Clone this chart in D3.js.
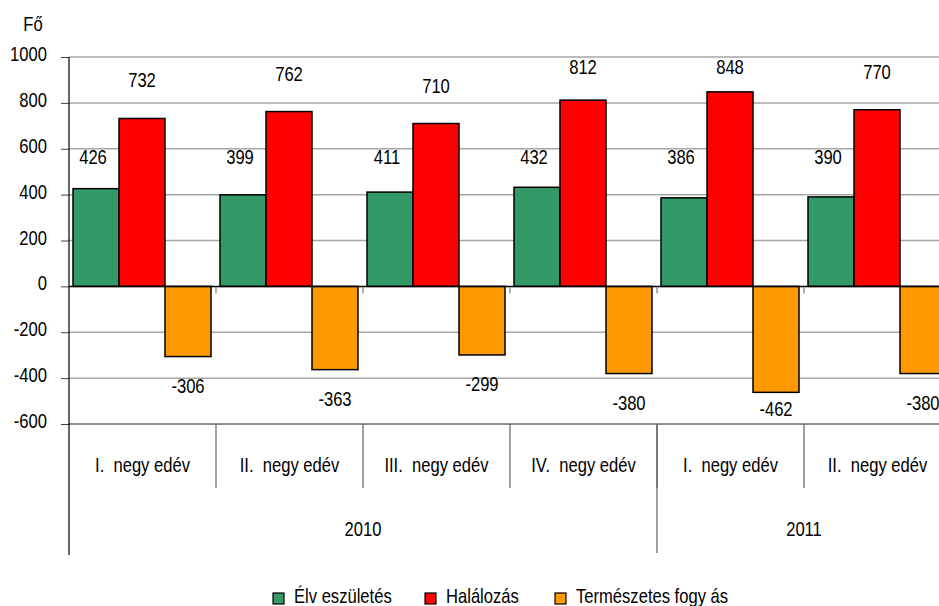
<!DOCTYPE html>
<html><head><meta charset="utf-8">
<script src="https://cdn.jsdelivr.net/npm/d3@7"></script>
<style>body{margin:0;background:#fff}svg{display:block}text{font-family:"Liberation Sans",Arial,sans-serif;fill:#000}</style>
</head><body><svg id="c" width="939" height="606"></svg>
<script>
const quarters = ["I.  negy edév","II.  negy edév","III.  negy edév","IV.  negy edév","I.  negy edév","II.  negy edév"];
const years = [{label:"2010", n:4},{label:"2011", n:2}];
const seriesNames = ["Élv eszületés","Halálozás","Természetes fogy ás"];
const births = [426,399,411,432,386,390];
const deaths = [732,762,710,812,848,770];
const natural = [-306,-363,-299,-380,-462,-380];
const yTicks = [-600,-400,-200,0,200,400,600,800,1000];
const colors = ["#339966","#ff0000","#ff9900"];
const series = [births, deaths, natural];

const svg = d3.select("#c");
const font = 20, sx = 0.83;
function txt(g, x, yy, s, anchor, dy){
  return g.append("text").attr("transform",`translate(${x},${yy}) scale(${sx},1)`)
    .attr("text-anchor",anchor||"middle").attr("dy",dy||"0.35em").attr("font-size",font)
    .style("white-space","pre").text(s);
}
const y = d3.scaleLinear().domain([-600,1000]).range([424,57]);
const x = d3.scaleBand().domain(d3.range(quarters.length)).range([69,951]).paddingInner(0).paddingOuter(0);
const bx = d3.scaleBand().domain([0,1,2]).range([4, x.bandwidth()-5]).padding(0);

// gridlines
svg.append("g").selectAll("line").data(yTicks.filter(d=>d!==0)).join("line")
  .attr("x1",69).attr("x2",951).attr("y1",d=>y(d)).attr("y2",d=>y(d))
  .attr("stroke",d=>d===-600?"#8c8c8c":"#a6a6a6").attr("stroke-width",d=>d===-600?2:1.5);

// y axis
const yAxis = d3.axisLeft(y).tickValues(yTicks).tickFormat(()=>"").tickSize(8);
const ya = svg.append("g").attr("transform","translate(69,0)").call(yAxis);
ya.select(".domain").remove();
ya.selectAll(".tick line").attr("stroke","#404040");
const yl = svg.append("g");
yTicks.forEach(t=>txt(yl, 47, y(t)-3, String(t), "end"));
svg.append("line").attr("x1",69).attr("x2",69).attr("y1",y(1000)).attr("y2",555).attr("stroke","#000").attr("stroke-width",1.2);

txt(svg, 33, 24, "Fő", "middle");

// bars
series.forEach((s,si)=>{
  svg.append("g").selectAll("rect").data(s).join("rect")
    .attr("x",(d,i)=>x(i)+bx(si))
    .attr("width",bx.bandwidth())
    .attr("y",d=>Math.min(y(d),y(0)))
    .attr("height",d=>Math.abs(y(d)-y(0)))
    .attr("fill",colors[si]).attr("stroke","#000").attr("stroke-width",1.5);
});

// zero line with ticks
svg.append("line").attr("x1",69).attr("x2",951).attr("y1",y(0)).attr("y2",y(0)).attr("stroke","#000").attr("stroke-width",1.5);
svg.append("g").selectAll("line").data(d3.range(1,quarters.length)).join("line")
  .attr("x1",i=>x(i)).attr("x2",i=>x(i)).attr("y1",y(0)).attr("y2",y(0)+7).attr("stroke","#606060").attr("stroke-width",1);

// value labels
const labelY = [
  d=>y(565),
  d=>Math.max(y(d)-38, 67),
  d=>Math.min(y(d)+29, 409)
];
const vl = svg.append("g");
series.forEach((s,si)=>{
  s.forEach((d,i)=>txt(vl, x(i)+bx(si)+bx.bandwidth()/2 + (si===0?-3:0), labelY[si](d), String(d), "middle"));
});

// category labels
const cl = svg.append("g");
quarters.forEach((q,i)=>txt(cl, x(i)+x.bandwidth()/2, 465, q, "middle"));
svg.append("g").selectAll("line").data(d3.range(1,quarters.length)).join("line")
  .attr("x1",i=>x(i)).attr("x2",i=>x(i)).attr("y1",y(-600)).attr("y2",488).attr("stroke","#606060").attr("stroke-width",1.2);
let acc=0;
years.forEach((yr,k)=>{
  const x0 = x(acc), x1 = acc+yr.n<quarters.length ? x(acc+yr.n) : x.range()[1];
  txt(svg, (x0+x1)/2, 529, yr.label, "middle");
  if(k>0) svg.append("line").attr("x1",x0).attr("x2",x0).attr("y1",y(-600)).attr("y2",553).attr("stroke","#606060").attr("stroke-width",1.2);
  acc+=yr.n;
});

// legend
const legX = [273,425,555];
const lg = svg.append("g");
seriesNames.forEach((n,i)=>{
  lg.append("rect").attr("x",legX[i]).attr("y",593).attr("width",11).attr("height",11).attr("fill",colors[i]).attr("stroke","#000").attr("stroke-width",1.2);
  txt(lg, legX[i]+21, 603, n, "start", "0");
});
</script></body></html>
